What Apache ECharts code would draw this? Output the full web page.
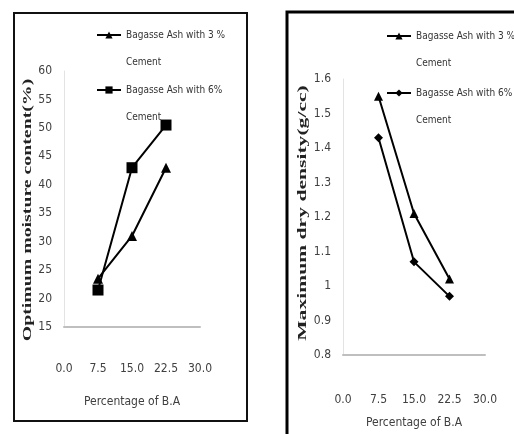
<!DOCTYPE html>
<html><head><meta charset="utf-8">
<script src="https://cdn.jsdelivr.net/npm/echarts@6/dist/echarts.min.js"></script>
<style>html,body{margin:0;padding:0;background:#fff}#c{width:514px;height:434px}</style>
</head><body><div id="c"></div>
<script>
// ---- data ----
const baPercent = [7.5, 15, 22.5];
const omc3 = [23.5, 31, 43];
const omc6 = [21.5, 43, 50.5];
const mdd3 = [1.55, 1.21, 1.02];
const mdd6 = [1.43, 1.07, 0.97];
const legendNames = ['Bagasse Ash with 3 % Cement', 'Bagasse Ash with 6% Cement'];
const omcTitle = 'Optimum moisture content(%)';
const mddTitle = 'Maximum dry density(g/cc)';
const xTitle = 'Percentage of B.A';

const narrow = "'Liberation Sans Narrow','DejaVu Sans Condensed','Arial Narrow','Liberation Sans',sans-serif";
const lblColor = '#404040';
const pairs = (xs, ys) => xs.map((x, i) => [x, ys[i]]);
const omcNames = legendNames.map(n => 'OMC: ' + n);
const mddNames = legendNames.map(n => 'MDD: ' + n);
const fmtLegend = n => '\n' + n.replace(/^(OMC|MDD): /, '').replace(' Cement', '\nCement');

function legendAt(name, left, cy) {
  return {
    data: [name], left: left, top: cy - 40.5, padding: 0, orient: 'vertical',
    itemWidth: 24, itemHeight: 9, itemGap: 0, formatter: fmtLegend,
    textStyle: { fontFamily: narrow, fontSize: 10, color: '#333', lineHeight: 27 }
  };
}
function xAx(gi, gap) {
  return {
    gridIndex: gi, type: 'value', min: 0, max: 30, interval: 7.5,
    axisLine: { lineStyle: { color: '#bfbfbf', width: 2 } }, axisTick: { show: false }, splitLine: { show: false },
    axisLabel: { margin: gi === 0 ? 36 : 39, fontFamily: narrow, fontSize: 12, color: lblColor, formatter: v => v.toFixed(1) },
    name: xTitle, nameLocation: 'middle', nameGap: gap,
    nameTextStyle: { fontFamily: narrow, fontSize: 12, color: lblColor }
  };
}
function yAx(gi, min, max, interval, fmt) {
  return {
    gridIndex: gi, type: 'value', min: min, max: max, interval: interval,
    axisLine: { show: true, lineStyle: { color: '#e3e3e3', width: 1 } }, axisTick: { show: false }, splitLine: { show: false },
    axisLabel: { margin: 12, fontFamily: narrow, fontSize: 12, color: lblColor, formatter: fmt }
  };
}
function ser(name, gi, data, symbol, size) {
  return {
    name: name, type: 'line', xAxisIndex: gi, yAxisIndex: gi, data: data,
    symbol: symbol, symbolSize: size, showSymbol: true,
    lineStyle: { color: '#000', width: 2 }, itemStyle: { color: '#000' }
  };
}

const chart = echarts.init(document.getElementById('c'), null, { renderer: 'canvas' });
chart.setOption({
  backgroundColor: '#fff',
  animation: false,
  graphic: [
    { type: 'rect', shape: { x: 14, y: 13, width: 233, height: 408 }, style: { fill: 'none', stroke: '#111', lineWidth: 2 } },
    { type: 'rect', shape: { x: 287, y: 12, width: 260, height: 440 }, style: { fill: 'none', stroke: '#000', lineWidth: 3 } },
    { type: 'text', x: 28, y: 210, rotation: Math.PI / 2, scaleX: 1.65,
      style: { text: omcTitle, font: 'bold 12px "Liberation Serif", serif', fill: '#222', align: 'center', verticalAlign: 'middle' } },
    { type: 'text', x: 303, y: 213, rotation: Math.PI / 2, scaleX: 1.8,
      style: { text: mddTitle, font: 'bold 12px "Liberation Serif", serif', fill: '#222', align: 'center', verticalAlign: 'middle' } }
  ],
  legend: [
    legendAt(omcNames[0], 96, 35), legendAt(omcNames[1], 96, 90),
    legendAt(mddNames[0], 386, 36), legendAt(mddNames[1], 386, 93)
  ],
  grid: [
    { left: 64, top: 71, width: 136, height: 256 },
    { left: 343, top: 79, width: 142, height: 278 }
  ],
  xAxis: [xAx(0, 69), xAx(1, 62)],
  yAxis: [
    yAx(0, 15, 60, 5, v => String(v)),
    yAx(1, 0.8, 1.6, 0.1, v => String(+v.toFixed(1)))
  ],
  series: [
    ser(omcNames[0], 0, pairs(baPercent, omc3), 'triangle', 10),
    ser(omcNames[1], 0, pairs(baPercent, omc6), 'rect', 11),
    ser(mddNames[0], 1, pairs(baPercent, mdd3), 'triangle', 9),
    ser(mddNames[1], 1, pairs(baPercent, mdd6), 'diamond', 9)
  ]
});
</script></body></html>
